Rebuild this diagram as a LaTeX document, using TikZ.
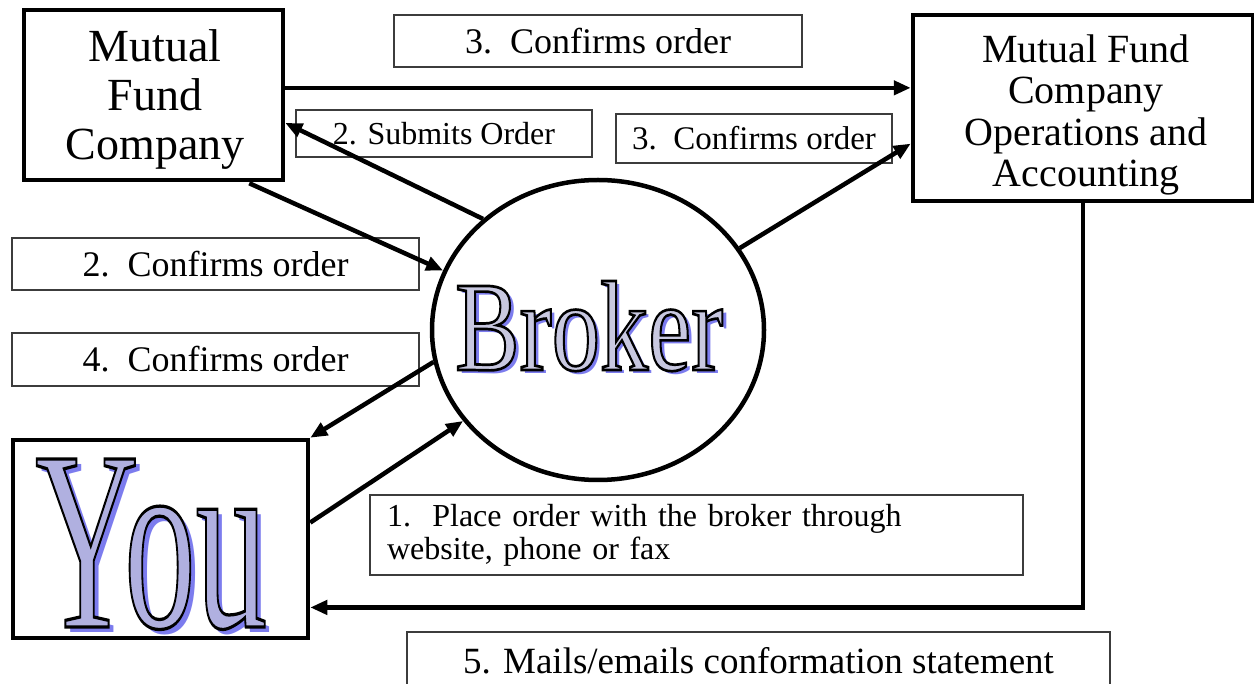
\documentclass[tikz,border=0pt]{standalone}
\usepackage{fontspec}
\setmainfont{Liberation Serif}
\usetikzlibrary{arrows.meta,calc,shapes.geometric}
\definecolor{wafill}{RGB}{200,200,224}
\definecolor{wafillY}{RGB}{176,176,224}
\definecolor{wshadow}{RGB}{124,124,238}
\definecolor{thinbox}{RGB}{60,60,60}
% #1 width, #2 height, #3 font size, #4 fill colour, #5 shadow offset, #6 text, #7 outline width
\newcommand\WordArt[7]{%
  \makebox[0pt][l]{\hspace*{#5}\raisebox{-#5}{{\color{wshadow}\resizebox{#1}{#2}{\fontsize{#3}{#3}\selectfont #6}}}}%
  {\color{#4}\resizebox{#1}{#2}{\fontsize{#3}{#3}\selectfont
    \special{pdf:literal direct 0 G #7 w 2 Tr}#6\special{pdf:literal direct 0 Tr}}}}
\begin{document}
\begin{tikzpicture}[x=1pt,y=-1pt,
  bigbox/.style={draw=black,line width=4.5pt,rectangle,inner sep=0pt},
  tbox/.style={draw=thinbox,line width=1.3pt,rectangle,inner sep=0pt},
  arr/.style={line width=4.5pt,-{Triangle[length=17pt,width=14pt]}}]
\useasboundingbox (0,0) rectangle (1254,684);
\fill[white] (0,0) rectangle (1254,684);

% main boxes
\node[bigbox,minimum width=259pt,minimum height=170pt] (mfc) at (153.5,95) {};
\node[font=\fontsize{46}{49}\selectfont,align=center,inner sep=0pt] (mfct) at (155,100) {Mutual\\Fund\\Company};

\node[bigbox,minimum width=340pt,minimum height=186pt] (ops) at (1083,108) {};
\node[font=\fontsize{40}{41.5}\selectfont,align=center,inner sep=0pt] (opst) at (1086,115) {Mutual Fund\\Company\\Operations and\\Accounting};

\node[bigbox,minimum width=295pt,minimum height=198pt] (you) at (160.5,539) {};
\node[ellipse,draw,line width=4.5pt,minimum width=332pt,minimum height=300pt,inner sep=0pt] (broker) at (598,330) {};

% word art
\node[inner sep=0pt,anchor=base west] (brokertxt) at (455,370)
  {\WordArt{268pt}{89pt}{100}{wafill}{4pt}{Broker}{2.1}};
\node[inner sep=0pt,anchor=base west] (youtxt) at (35,627)
  {\WordArt{232pt}{168pt}{150}{wafillY}{5pt}{You}{1.9}};

% label boxes
\node[tbox,minimum width=408pt,minimum height=52pt,font=\fontsize{36}{40}\selectfont] (t3a) at (598,41) {3.\ \ Confirms order};
\node[tbox,minimum width=296pt,minimum height=47pt,font=\fontsize{32}{36}\selectfont] (tsub) at (444,133.5) {2. Submits Order};
\node[tbox,minimum width=276pt,minimum height=49pt,font=\fontsize{33}{36}\selectfont] (t3b) at (754,138.5) {3.\ \ Confirms order};
\node[tbox,minimum width=407pt,minimum height=52pt,font=\fontsize{36}{40}\selectfont] (t2) at (215.5,264) {2.\ \ Confirms order};
\node[tbox,minimum width=407pt,minimum height=53pt,font=\fontsize{36}{40}\selectfont] (t4) at (215.5,359.5) {4.\ \ Confirms order};
\node[tbox,minimum width=653pt,minimum height=80pt,text width=619pt,align=left,inner xsep=17pt,font=\fontsize{32}{33}\selectfont] (t1) at (696.5,535) {1.\ \ Place order with the broker through\\website, phone or fax};
\node[tbox,minimum width=703pt,minimum height=58pt,font=\fontsize{37}{40}\selectfont] (t5) at (758.5,661) {5. Mails/emails conformation statement};

% connectors
\coordinate (a1) at ($(mfc.north east)!0.459!(mfc.south east)$);
\draw[arr] (a1) -- (a1 -| ops.west);
\draw[arr] (broker.136) -- ($(mfc.north east)!0.66!(mfc.south east)$);
\draw[arr] ([xshift=-36pt,yshift=-1pt]mfc.south east) -- (broker.159);
\draw[arr] (broker.30) -- ($(ops.north west)!0.687!(ops.south west)$);
\draw[arr] (broker.191) -- (you.north east);
\draw[arr] ($(you.north east)!0.419!(you.south east)$) -- (broker.214);
\draw[arr] (ops.south) |- ($(you.north east)!0.838!(you.south east)$);
\end{tikzpicture}
\end{document}
